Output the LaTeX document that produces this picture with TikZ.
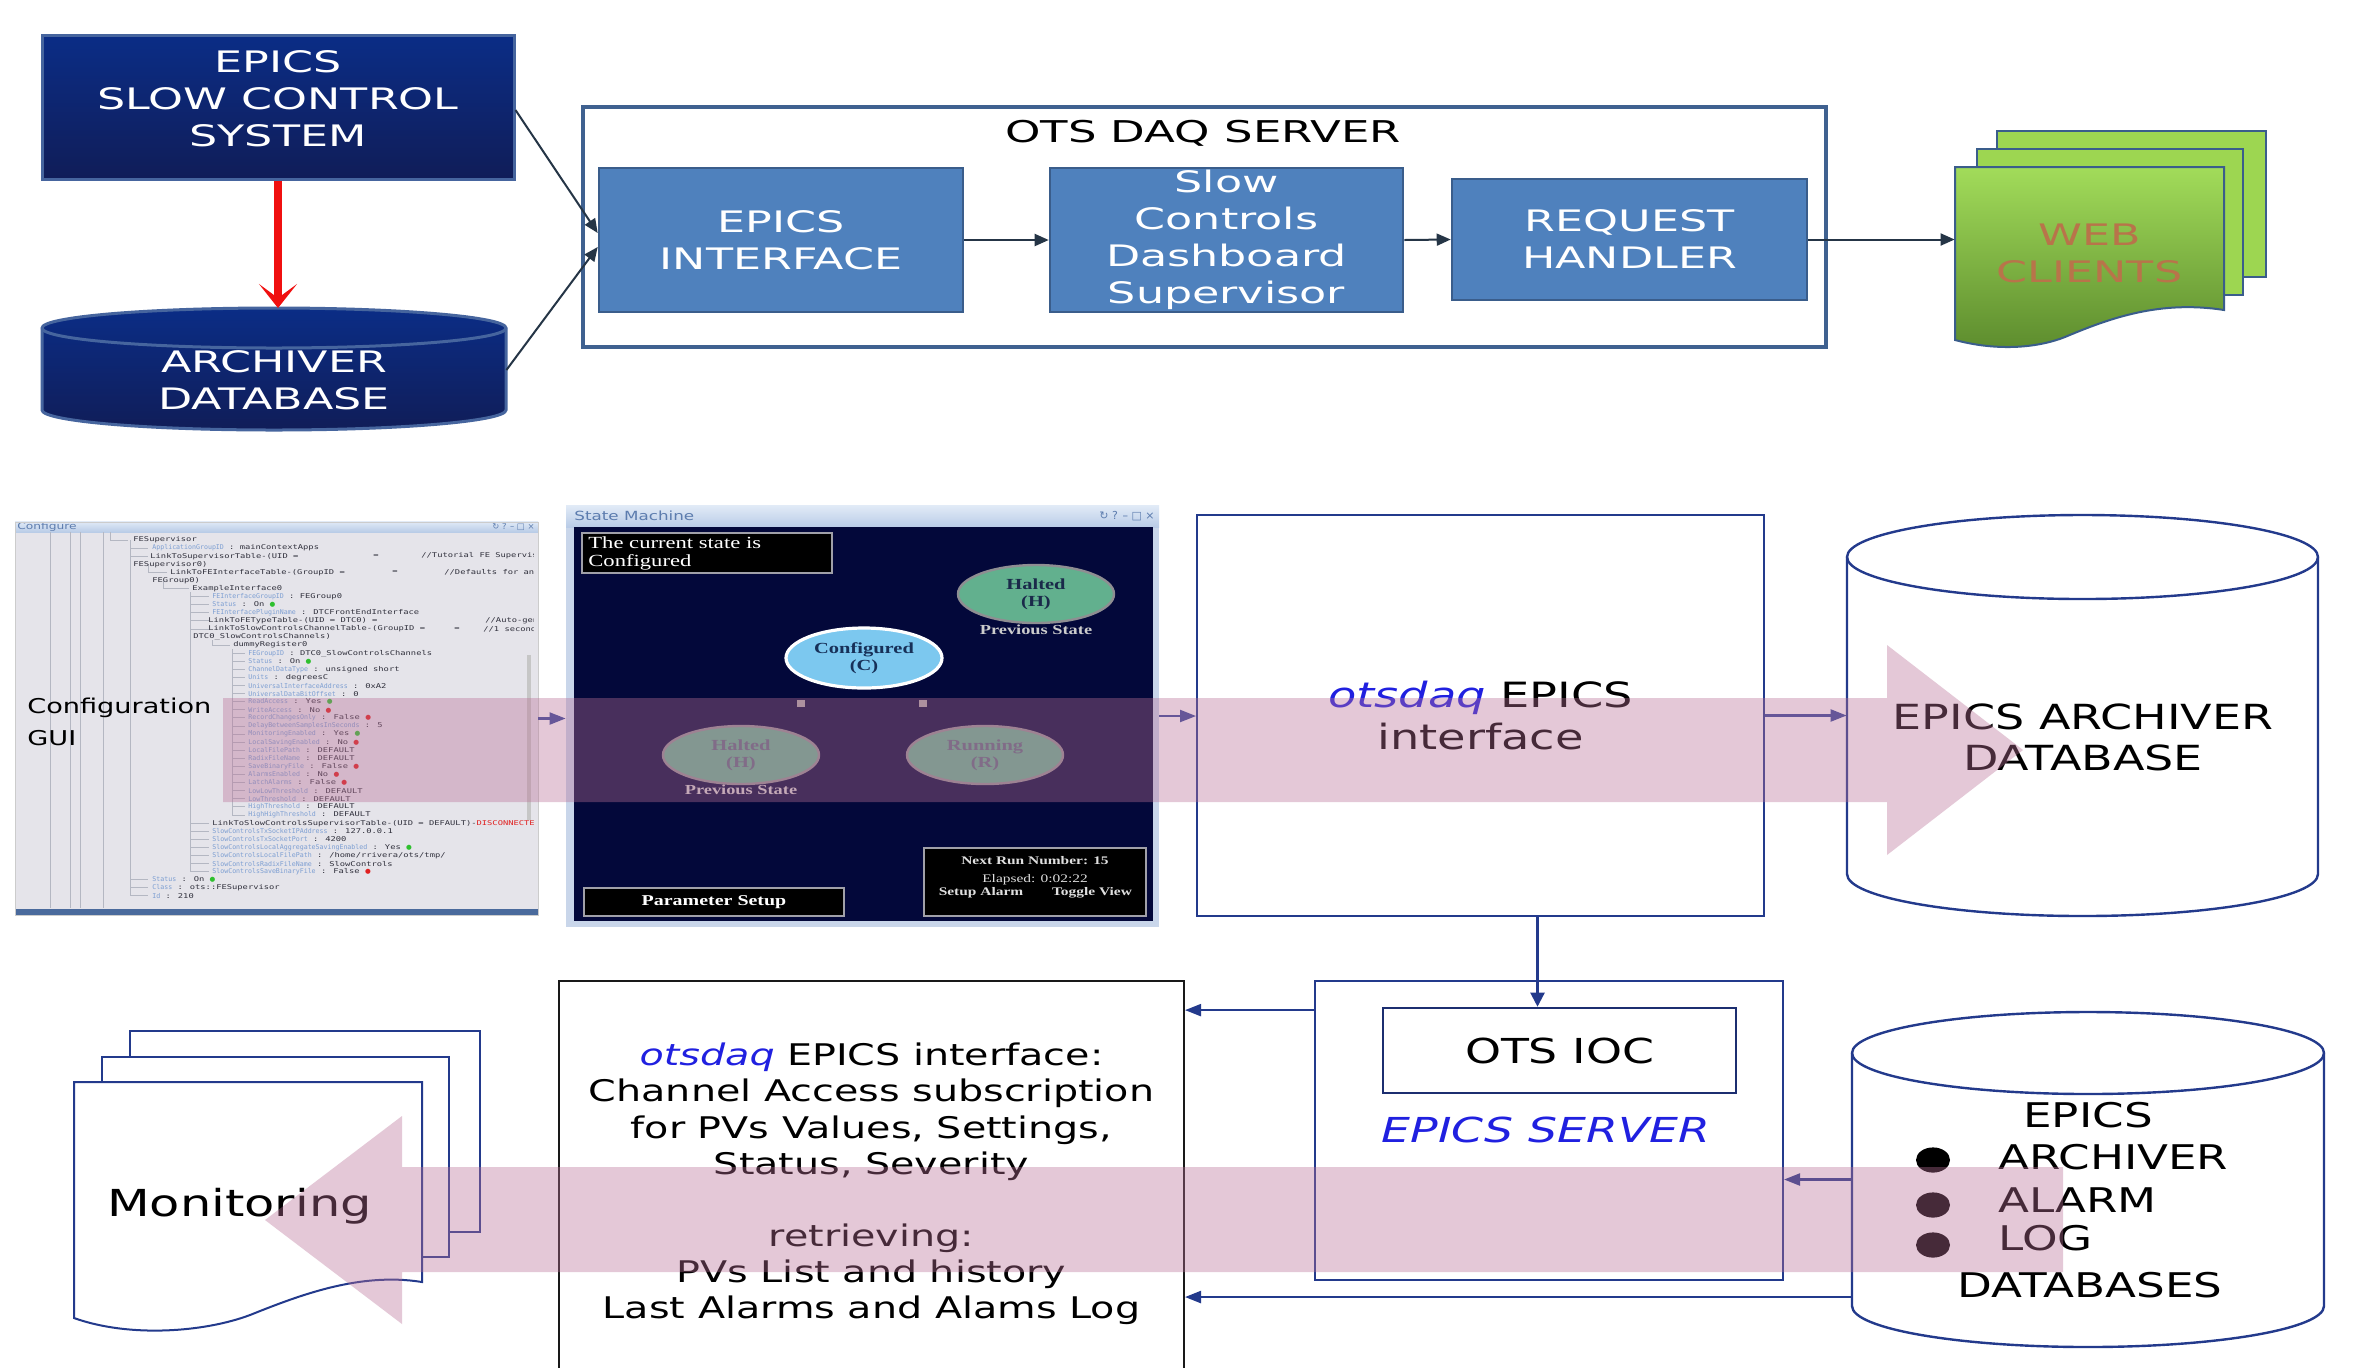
\documentclass[tikz,border=0pt]{standalone}
\usepackage{fontspec}
\usetikzlibrary{arrows.meta,calc,shapes.geometric}
\newfontfamily\fontTop[FakeStretch=1.5]{DejaVu Sans}
\newfontfamily\fontMid[FakeStretch=1.33]{DejaVu Sans}
\newfontfamily\fontSerif[FakeStretch=1.33]{Liberation Serif}
\newfontfamily\fontMono[FakeStretch=1.33]{DejaVu Sans Mono}
\newfontfamily\fontKey[FakeStretch=1.0]{DejaVu Sans Mono}
\newfontfamily\fontSym{DejaVu Sans}
\definecolor{navyA}{HTML}{0B2D86}
\definecolor{navyB}{HTML}{101D58}
\definecolor{navyE}{HTML}{46659E}
\definecolor{boxblue}{HTML}{4F81BD}
\definecolor{boxedge}{HTML}{3A5D8B}
\definecolor{frameC}{HTML}{3F6190}
\definecolor{slate}{HTML}{253546}
\definecolor{redA}{HTML}{F01010}
\definecolor{greenA}{HTML}{A2DC5A}
\definecolor{greenB}{HTML}{5C8B2D}
\definecolor{greenC}{HTML}{9DD651}
\definecolor{webtxt}{HTML}{B8744A}
\definecolor{lnav}{HTML}{233A8C}
\definecolor{arrw}{HTML}{34479A}
\definecolor{bandC}{RGB}{185,112,150}
\definecolor{otsblue}{HTML}{2020E0}
\definecolor{smbg}{HTML}{03083A}
\definecolor{smframe}{HTML}{C9D6EA}
\definecolor{smtitleA}{HTML}{E2EBF7}
\definecolor{smtitleB}{HTML}{B9CCE7}
\definecolor{smtext}{HTML}{5C7CAE}
\definecolor{smgray}{HTML}{A0A0A8}
\definecolor{halt}{HTML}{62B08E}
\definecolor{haltedge}{HTML}{8E8E92}
\definecolor{haltText}{HTML}{1A2A4A}
\definecolor{confC}{HTML}{7CC8EF}
\definecolor{confText}{HTML}{173058}
\definecolor{cfgbg}{HTML}{E5E4EA}
\definecolor{cfgbar}{HTML}{4A6A9C}
\definecolor{tdark}{HTML}{30303C}
\definecolor{keyc}{HTML}{7C9ED2}
\definecolor{dotg}{HTML}{2FC02F}
\definecolor{dotr}{HTML}{E02020}
\definecolor{treeline}{HTML}{B4B7C2}
\newcommand\kyy[1]{{\fontKey\color{keyc}#1}}
\newcommand\gdot{{\fontSym\color{dotg}●}}
\newcommand\rdot{{\fontSym\color{dotr}●}}
\newcommand\trl[3]{\node[treet] (tr#1) at (#2,{540+(#1-1)*8.09}) {#3};}
\begin{document}
\begin{tikzpicture}[x=0.5pt,y=-0.5pt,font=\fontMid,
 toptxt/.style={font={\fontTop\fontsize{14.8}{18.5}\selectfont}, align=center, inner sep=0pt},
 tbox/.style={toptxt, draw=boxedge, line width=1.3pt, fill=boxblue, text=white},
 tarr/.style={slate, line width=1pt, -{Triangle[length=7pt,width=6pt]}},
 marr/.style={arrw, line width=1.1pt, -{Triangle[length=8pt,width=6pt]}},
 barr/.style={lnav, line width=1.1pt, -{Triangle[length=8pt,width=6pt]}},
 treet/.style={anchor=west, inner sep=0pt, font={\fontMono\fontsize{3.3}{3.8}\selectfont}, text=tdark},
 smel/.style={ellipse, inner sep=0pt, minimum width=78pt, minimum height=29pt, align=center, font={\fontSerif\bfseries\fontsize{7.7}{8.5}\selectfont}},
 smbox/.style={draw=smgray, line width=0.6pt, fill=black, inner sep=0pt},
 doc/.style={draw=lnav, line width=1pt, fill=white},
 cyl/.style={draw=lnav, line width=1.2pt},
 midtxt/.style={font={\fontMid\fontsize{17.3}{20.8}\selectfont}, align=center, inner sep=0pt},
]
\useasboundingbox (0,0) rectangle (2365,1367);
\fill[white] (0,0) rectangle (2365,1367);

% ================= TOP =================
\shade[top color=navyA, bottom color=navyB] (42,35) rectangle (514,179);
\node[draw=navyE, line width=1.5pt, minimum width=236pt, minimum height=72pt, inner sep=0pt] (sys) at (278,107) {};
\node[toptxt, text=white] (systxt) at (278,99) {EPICS\\SLOW CONTROL\\SYSTEM};

\shade[top color=navyA, bottom color=navyB] (42,328) -- (42,410) arc[start angle=180,end angle=360,x radius=116pt,y radius=10pt] -- (506,328) arc[start angle=0,end angle=180,x radius=116pt,y radius=10pt] -- cycle;
\draw[navyE, line width=1.5pt] (42,328) -- (42,410) arc[start angle=180,end angle=360,x radius=116pt,y radius=10pt] -- (506,328) arc[start angle=0,end angle=180,x radius=116pt,y radius=10pt] -- cycle;
\draw[navyE, line width=1.5pt] (42,328) arc[start angle=180,end angle=360,x radius=116pt,y radius=10pt];
\coordinate (archtop) at (278,308);
\node[toptxt, text=white, minimum width=232pt] (arch) at (274,380) {ARCHIVER\\DATABASE};

\draw[redA, line width=4pt, -{Stealth[length=12pt,width=19pt,inset=7pt]}] (sys.south) -- (sys.south |- archtop);

\node[draw=frameC, line width=1.8pt, minimum width=621.5pt, minimum height=120pt, inner sep=0pt] (ots) at (1204.5,227) {};
\node[font={\fontTop\fontsize{15}{18}\selectfont}, inner sep=0pt] (otst) at (1203,133) {OTS DAQ SERVER};

\node[tbox, minimum width=182pt, minimum height=72pt] (ei) at (781,240) {EPICS\\INTERFACE};
\node[tbox, minimum width=176.5pt, minimum height=72pt] (scd) at (1226.5,240) {Slow\\Controls\\Dashboard\\Supervisor};
\node[tbox, minimum width=177.5pt, minimum height=60.5pt] (req) at (1629.5,239.5) {REQUEST\\HANDLER};

\draw[tarr] ([yshift=-1.5pt]sys.east) -- ([yshift=3.5pt]ei.west);
\draw[tarr] ([yshift=5pt]arch.east) -- ([yshift=-3.5pt]ei.west);
\draw[tarr] (ei.east) -- (scd.west);
\draw[tarr] (scd.east) -- (req.west);

% web clients
\draw[draw=boxedge, line width=1pt, fill=greenC] (1997,131) rectangle (2266,277);
\draw[draw=boxedge, line width=1pt, fill=greenC] (1977,149) rectangle (2243,295);
\draw[draw=boxedge, line width=1pt, top color=greenA, bottom color=greenB] (1955,167) -- (2224,167) -- (2224,310) .. controls (2160,300) and (2110,318) .. (2065,337) .. controls (2040,347) and (2000,352) .. (1955,340) -- cycle;
\node[toptxt, text=webtxt, minimum width=134.5pt] (web) at (2089.5,253.5) {WEB\\CLIENTS};
\draw[tarr] (req.east) -- (req.east -| web.west);

% ================= MIDDLE =================
% Configure window
\fill[cfgbg] (15,521) rectangle (538,915);
\shade[top color=smtitleA, bottom color=smtitleB] (15,521) rectangle (538,532);
\node[anchor=west, text=smtext, font={\fontMid\fontsize{4.6}{5}\selectfont}, inner sep=0pt] (cfgtitle) at (17,527) {Configure};
\node[anchor=east, text=smtext, font={\fontSym\fontsize{4.2}{5}\selectfont}, inner sep=0pt] (cfgctl) at (535,527) {↻ ? – □ ×};
\fill[cfgbar] (15,909) rectangle (538,915);
\fill[gray!45] (527,655) rectangle (531,820);
\begin{scope}
\clip (15,532) rectangle (533,908);
\foreach \xx in {50,70,80,103} \draw[treeline, line width=0.4pt] (\xx,532) -- (\xx,908);
\draw[treeline, line width=0.5pt] (110,532) -- (110,540) -- (128,540);
\draw[treeline, line width=0.5pt] (130,540) -- (130,896);
\foreach \i in {2,3,43,44,45} \draw[treeline, line width=0.5pt] (130,{540+(\i-1)*8.09}) -- (148,{540+(\i-1)*8.09});
\draw[treeline, line width=0.5pt] (148,564) -- (148,572) -- (167,572);
\draw[treeline, line width=0.5pt] (163,580) -- (163,588.5) -- (189,588.5);
\draw[treeline, line width=0.5pt] (190,592) -- (190,872);
\foreach \i in {8,9,10,11,12,36,37,38,39,40,41,42} \draw[treeline, line width=0.5pt] (190,{540+(\i-1)*8.09}) -- (209,{540+(\i-1)*8.09});
\draw[treeline, line width=0.5pt] (212,640) -- (212,645) -- (230,645);
\draw[treeline, line width=0.5pt] (232,649) -- (232,815);
\foreach \i in {15,...,35} \draw[treeline, line width=0.5pt] (232,{540+(\i-1)*8.09}) -- (245,{540+(\i-1)*8.09});
\trl{1}{133}{FESupervisor}
\trl{2}{152}{\kyy{ApplicationGroupID} : mainContextApps}
\trl{3}{150}{LinkToSupervisorTable-(UID =}
\trl{4}{133}{FESupervisor0)}
\trl{5}{170}{LinkToFEInterfaceTable-(GroupID =}
\trl{6}{152}{FEGroup0)}
\trl{7}{192}{ExampleInterface0}
\trl{8}{212}{\kyy{FEInterfaceGroupID} : FEGroup0}
\trl{9}{212}{\kyy{Status} : On \gdot}
\trl{10}{212}{\kyy{FEInterfacePluginName} : DTCFrontEndInterface}
\trl{11}{208}{LinkToFETypeTable-(UID = DTC0) =}
\trl{12}{208}{LinkToSlowControlsChannelTable-(GroupID =}
\trl{13}{193}{DTC0\_SlowControlsChannels)}
\trl{14}{233}{dummyRegister0}
\trl{15}{248}{\kyy{FEGroupID} : DTC0\_SlowControlsChannels}
\trl{16}{248}{\kyy{Status} : On \gdot}
\trl{17}{248}{\kyy{ChannelDataType} : unsigned short}
\trl{18}{248}{\kyy{Units} : degreesC}
\trl{19}{248}{\kyy{UniversalInterfaceAddress} : 0xA2}
\trl{20}{248}{\kyy{UniversalDataBitOffset} : 0}
\trl{21}{248}{\kyy{ReadAccess} : Yes \gdot}
\trl{22}{248}{\kyy{WriteAccess} : No \rdot}
\trl{23}{248}{\kyy{RecordChangesOnly} : False \rdot}
\trl{24}{248}{\kyy{DelayBetweenSamplesInSeconds} : 5}
\trl{25}{248}{\kyy{MonitoringEnabled} : Yes \gdot}
\trl{26}{248}{\kyy{LocalSavingEnabled} : No \rdot}
\trl{27}{248}{\kyy{LocalFilePath} : DEFAULT}
\trl{28}{248}{\kyy{RadixFileName} : DEFAULT}
\trl{29}{248}{\kyy{SaveBinaryFile} : False \rdot}
\trl{30}{248}{\kyy{AlarmsEnabled} : No \rdot}
\trl{31}{248}{\kyy{LatchAlarms} : False \rdot}
\trl{32}{248}{\kyy{LowLowThreshold} : DEFAULT}
\trl{33}{248}{\kyy{LowThreshold} : DEFAULT}
\trl{34}{248}{\kyy{HighThreshold} : DEFAULT}
\trl{35}{248}{\kyy{HighHighThreshold} : DEFAULT}
\trl{36}{212}{LinkToSlowControlsSupervisorTable-(UID = DEFAULT)-{\color{dotr}DISCONNECTED}}
\trl{37}{212}{\kyy{SlowControlsTxSocketIPAddress} : 127.0.0.1}
\trl{38}{212}{\kyy{SlowControlsTxSocketPort} : 4200}
\trl{39}{212}{\kyy{SlowControlsLocalAggregateSavingEnabled} : Yes \gdot}
\trl{40}{212}{\kyy{SlowControlsLocalFilePath} : /home/rrivera/ots/tmp/}
\trl{41}{212}{\kyy{SlowControlsRadixFileName} : SlowControls}
\trl{42}{212}{\kyy{SlowControlsSaveBinaryFile} : False \rdot}
\trl{43}{152}{\kyy{Status} : On \gdot}
\trl{44}{152}{\kyy{Class} : ots::FESupervisor}
\trl{45}{152}{\kyy{Id} : 210}
\node[treet] (cm1) at (373,556) {=};
\node[treet] (cm2) at (421,556) {//Tutorial FE Supervisor};
\node[treet] (cm3) at (392,572) {=};
\node[treet] (cm4) at (444,572) {//Defaults for an e};
\node[treet] (cm5) at (485,621) {//Auto-gen};
\node[treet] (cm6) at (454,629) {=};
\node[treet] (cm7) at (483,629) {//1 second};
\end{scope}
\node[minimum width=261.5pt, minimum height=196.5pt, inner sep=0pt, draw=gray!40, line width=0.4pt] (cfg) at (276.5,718.5) {};
\node[anchor=west, align=left, font={\fontMid\fontsize{10.2}{16}\selectfont}, inner sep=0pt] (cgui) at (27,722) {Configuration\\GUI};

% State machine window
\fill[smframe] (566,505) rectangle (1159,927);
\shade[top color=smtitleA, bottom color=smtitleB] (566,505) rectangle (1159,527);
\node[anchor=west, text=smtext, font={\fontMid\fontsize{6.3}{7}\selectfont}, inner sep=0pt] (smtitle) at (574,516) {State Machine};
\node[anchor=east, text=smtext, font={\fontSym\fontsize{5.5}{6}\selectfont}, inner sep=0pt] (smctl) at (1155,516) {↻ ? – □ ×};
\fill[smbg] (574,527) rectangle (1153,921);
\node[minimum width=296.5pt, minimum height=211pt, inner sep=0pt] (sm) at (862.5,716) {};
\node[smbox, minimum width=125pt, minimum height=20pt] (cur) at (707,553) {};
\node[anchor=west, align=left, text=white, font={\fontSerif\fontsize{8.5}{9}\selectfont}, inner sep=0pt] (curt) at (588,553.5) {The current state is\\Configured};
\node[smel, draw=haltedge, line width=1.2pt, fill=halt, text=haltText] (h1) at (1036,594) {Halted\\(H)};
\node[font={\fontSerif\bfseries\fontsize{6.9}{8}\selectfont}, text=gray!40, inner sep=0pt] (prev1) at (1036,630) {Previous State};
\node[smel, draw=white, line width=1.6pt, fill=confC, minimum height=30pt, text=confText] (cf) at (864,658) {Configured\\(C)};
\node[smel, draw=haltedge, line width=1.2pt, fill=halt, text=haltText!70!white] (h2) at (741,755) {Halted\\(H)};
\node[smel, draw=haltedge, line width=1.2pt, fill=halt, text=haltText!70!white] (run) at (985,755) {Running\\(R)};
\node[font={\fontSerif\bfseries\fontsize{6.9}{8}\selectfont}, text=gray!40, inner sep=0pt] (prev2) at (741,790) {Previous State};
\fill[gray!70] (797,700) rectangle (805,707);
\fill[gray!70] (919,700) rectangle (927,707);
\node[smbox, minimum width=130pt, minimum height=14pt, text=white, font={\fontSerif\bfseries\fontsize{7.5}{8}\selectfont}] (ps) at (714,902) {Parameter Setup};
\node[smbox, minimum width=111pt, minimum height=34pt] (runbox) at (1035,882) {};
\node[text=gray!25, font={\fontSerif\bfseries\fontsize{5.8}{7}\selectfont}, inner sep=0pt] (nrn) at (1035,861) {Next Run Number: 15};
\node[text=gray!25, font={\fontSerif\fontsize{5.8}{7}\selectfont}, inner sep=0pt] (ela) at (1035,880) {Elapsed: 0:02:22};
\node[text=gray!25, font={\fontSerif\bfseries\fontsize{5.8}{7}\selectfont}, inner sep=0pt] (sal) at (981,893) {Setup Alarm};
\node[text=gray!25, font={\fontSerif\bfseries\fontsize{5.8}{7}\selectfont}, inner sep=0pt] (tgv) at (1092,893) {Toggle View};

% otsdaq EPICS interface
\node[draw=lnav, line width=1pt, minimum width=283.5pt, minimum height=200.5pt, midtxt, font={\fontMid\fontsize{17.4}{21}\selectfont}] (oi) at (1480.5,715.5) {{\color{otsblue}\itshape otsdaq} EPICS\\interface};

% archiver cylinder
\draw[cyl, fill=white] (1847,557) -- (1847,874) arc[start angle=180,end angle=360,x radius=117.75pt,y radius=21pt] -- (2318,557) arc[start angle=0,end angle=180,x radius=117.75pt,y radius=21pt] -- cycle;
\draw[cyl] (1847,557) arc[start angle=180,end angle=360,x radius=117.75pt,y radius=21pt];
\node[minimum width=235.5pt, minimum height=200.5pt, inner sep=0pt] (adb) at (2082.5,715.5) {};
\node[midtxt] (adbt) at (2083,737.5) {EPICS ARCHIVER\\DATABASE};

\draw[marr] (cfg.east) -- (cfg.east -| sm.west);
\draw[marr] (sm.east) -- (sm.east -| oi.west);
\draw[marr] (oi.east) -- (oi.east -| adb.west);

% ================= BOTTOM =================
\node[draw=lnav, line width=1pt, minimum width=234pt, minimum height=149.5pt, inner sep=0pt] (srv) at (1549,1130.5) {};
\node[draw=lnav!80!black, line width=1.3pt, minimum width=176.5pt, minimum height=42.5pt, inner sep=0pt, font={\fontMid\fontsize{17.2}{20}\selectfont}] (ioc) at (1559.5,1050.5) {OTS IOC};
\node[text=otsblue, font={\fontMid\itshape\fontsize{17.2}{20}\selectfont}, inner sep=0pt] (srvt) at (1546,1130) {EPICS SERVER};
\draw[lnav, line width=1.1pt, -{Triangle[length=7pt,width=7pt]}] ([xshift=28.5pt]oi.south) -- ([xshift=28.5pt]oi.south |- ioc.north);

\node[draw=black!90, line width=1pt, minimum width=312.5pt, minimum height=194.5pt, inner sep=0pt] (tb) at (871.5,1175.5) {};
\node[align=center, font={\fontMid\fontsize{14.9}{18.05}\selectfont}, inner sep=0pt] (tbt) at (871.5,1184) {{\color{otsblue}\itshape otsdaq} EPICS interface:\\Channel Access subscription\\for PVs Values, Settings,\\Status, Severity\\[18.05pt]retrieving:\\PVs List and history\\Last Alarms and Alams Log};

% monitoring docs
\draw[doc] (130,1031) rectangle (480,1232);
\draw[doc] (102,1057) rectangle (449,1257);
\draw[doc] (74,1082) -- (422,1082) -- (422,1282) .. controls (360,1272) and (300,1295) .. (250,1315) .. controls (205,1332) and (130,1338) .. (74,1318) -- cycle;
\node[font={\fontMid\fontsize{18.6}{22}\selectfont}, anchor=base, inner sep=0pt] (mon) at (239.5,1216) {Monitoring};

% databases cylinder
\draw[cyl, fill=white] (1852,1053) -- (1852,1306) arc[start angle=180,end angle=360,x radius=118pt,y radius=20.5pt] -- (2324,1053) arc[start angle=0,end angle=180,x radius=118pt,y radius=20.5pt] -- cycle;
\draw[cyl] (1852,1053) arc[start angle=180,end angle=360,x radius=118pt,y radius=20.5pt];
\node[minimum width=236pt, minimum height=167.5pt, inner sep=0pt] (edb) at (2088,1179.5) {};
\node[midtxt, font={\fontMid\fontsize{17}{21}\selectfont}] (e1) at (2088,1115) {EPICS};
\node[midtxt, anchor=west, font={\fontMid\fontsize{17}{21}\selectfont}] (e2) at (1998,1157) {ARCHIVER};
\node[midtxt, anchor=west, font={\fontMid\fontsize{17}{21}\selectfont}] (e3) at (1998,1200) {ALARM};
\node[midtxt, anchor=west, font={\fontMid\fontsize{17}{21}\selectfont}] (e4) at (1998,1238) {LOG};
\node[midtxt, font={\fontMid\fontsize{17}{21}\selectfont}] (e5) at (2090,1285) {DATABASES};
\foreach \yy in {1160,1205,1245} \fill[black] (1933,\yy) ellipse[x radius=8.5pt, y radius=6.3pt];

\coordinate (s1) at ($(srv.north west)!0.1!(srv.south west)$);
\coordinate (d2) at ($(edb.north west)!0.85!(edb.south west)$);
\draw[barr] (s1) -- (s1 -| tb.east);
\draw[barr] (edb.west) -- (edb.west -| srv.east);
\draw[barr] (d2) -- (d2 -| tb.east);

% ================= PINK BIG ARROWS (overlay) =================
\fill[bandC, opacity=0.38] (223,698) -- (1887,698) -- (1887,645) -- (2023,750) -- (1887,855) -- (1887,802) -- (223,802) -- cycle;
\fill[bandC, opacity=0.38] (2063,1167) -- (402,1167) -- (402,1116) -- (265,1220) -- (402,1324) -- (402,1272) -- (2063,1272) -- cycle;
\end{tikzpicture}
\end{document}
